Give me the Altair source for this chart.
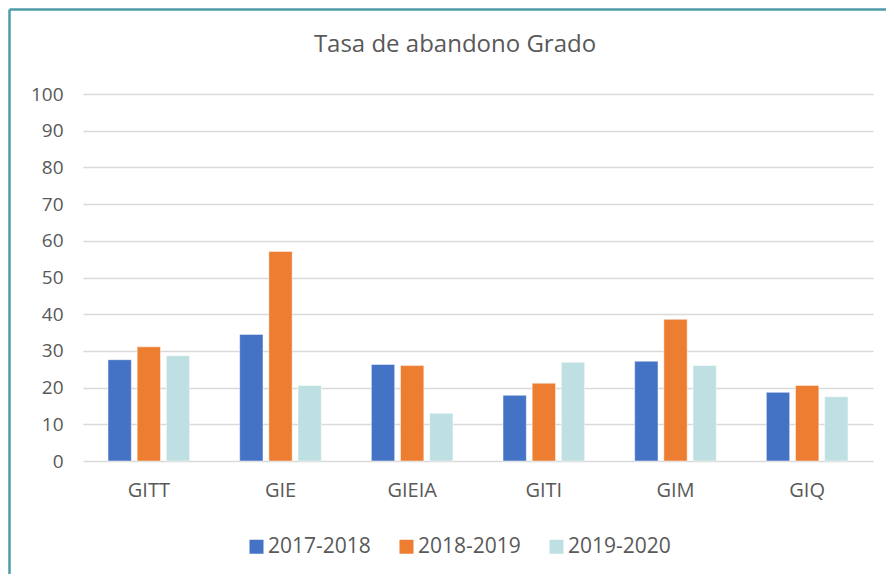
import altair as alt
import pandas as pd

categories = ["GITT", "GIE", "GIEIA", "GITI", "GIM", "GIQ"]
series = ["2017-2018", "2018-2019", "2019-2020"]
v2017 = [27.6, 34.5, 26.3, 17.9, 27.2, 18.7]
v2018 = [31.1, 57.1, 26.0, 21.2, 38.6, 20.6]
v2019 = [28.7, 20.6, 13.0, 26.9, 26.0, 17.5]
colors = ["#4472C4", "#ED7D31", "#BEE0E2"]
title_text = "Tasa de abandono Grado"

rows = []
for s, vals in zip(series, [v2017, v2018, v2019]):
    for c, v in zip(categories, vals):
        rows.append({"cat": c, "series": s, "value": v})
df = pd.DataFrame(rows)

FONT = "Open Sans"
GREY = "#595959"

bars = alt.Chart(df).mark_bar(stroke="white", strokeWidth=0.8, strokeOpacity=0.6).encode(
    x=alt.X("cat:N", sort=categories, title=None,
            scale=alt.Scale(paddingInner=0.38, paddingOuter=0.19),
            axis=alt.Axis(labelAngle=0, labelFont=FONT, labelFontSize=20, labelColor=GREY,
                          ticks=False, domain=False, labelPadding=19, grid=False)),
    xOffset=alt.XOffset("series:N", sort=series, scale=alt.Scale(paddingInner=0.2)),
    y=alt.Y("value:Q", title=None,
            scale=alt.Scale(domain=[0, 100], nice=False),
            axis=alt.Axis(values=list(range(0, 101, 10)), labelFont=FONT, labelFontSize=19,
                          labelColor=GREY, ticks=False, domain=False, labelPadding=20,
                          gridColor="#D9D9D9", gridWidth=1.5)),
    color=alt.Color("series:N", sort=series,
                    scale=alt.Scale(domain=series, range=colors),
                    legend=alt.Legend(title=None, orient="none", legendX=163, legendY=442,
                                      direction="horizontal",
                                      symbolType="square", symbolSize=196, symbolStrokeWidth=0,
                                      labelFont=FONT, labelFontSize=21, labelColor=GREY,
                                      columnPadding=25, labelOffset=1)),
)

title = alt.Chart(pd.DataFrame({"t": [title_text]})).mark_text(
    font=FONT, fontSize=24, color=GREY, align="center", baseline="middle"
).encode(text="t:N", x=alt.value(372), y=alt.value(-49))

border_left = alt.Chart(pd.DataFrame({"a": [0]})).mark_rule(color="#4E9BA6", strokeWidth=2.5).encode(
    x=alt.value(-73.5), y=alt.value(-84.5), y2=alt.value(600)
)
border_top = alt.Chart(pd.DataFrame({"a": [0]})).mark_rule(color="#4E9BA6", strokeWidth=2.5).encode(
    x=alt.value(-73.5), x2=alt.value(900), y=alt.value(-84.5)
)

chart = alt.layer(bars, title, border_left, border_top).properties(
    width=790, height=367,
    background="white",
    autosize=alt.AutoSizeParams(type="none"),
    padding={"left": 75, "top": 86, "right": 13, "bottom": 113},
).configure_view(stroke=None, strokeWidth=0)

chart.save("out.html", embed_options={"renderer": "svg", "actions": False})
